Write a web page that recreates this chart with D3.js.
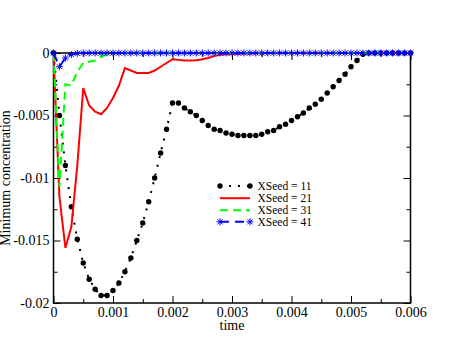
<!DOCTYPE html>
<html>
<head>
<meta charset="utf-8">
<script src="https://cdn.jsdelivr.net/npm/d3@7"></script>
<style>
body { margin: 0; background: white; }
svg text { font-family: "Liberation Serif", "Times New Roman", "DejaVu Serif", serif; }
</style>
</head>
<body>
<div class="container"></div>
<script>
// data
var times = [0, 0.0001, 0.0002, 0.0003, 0.0004, 0.0005, 0.0006, 0.0007, 0.0008, 0.0009,
             0.0010, 0.0011, 0.0012, 0.0013, 0.0014, 0.0015, 0.0016, 0.0017, 0.0018, 0.0019,
             0.0020, 0.0021, 0.0022, 0.0023, 0.0024, 0.0025, 0.0026, 0.0027, 0.0028, 0.0029,
             0.0030, 0.0031, 0.0032, 0.0033, 0.0034, 0.0035, 0.0036, 0.0037, 0.0038, 0.0039,
             0.0040, 0.0041, 0.0042, 0.0043, 0.0044, 0.0045, 0.0046, 0.0047, 0.0048, 0.0049,
             0.0050, 0.0051, 0.0052, 0.0053, 0.0054, 0.0055, 0.0056, 0.0057, 0.0058, 0.0059,
             0.0060];

var seed11 = [0, -0.0050, -0.0090, -0.0123, -0.0149, -0.0168, -0.0181, -0.0189, -0.0194, -0.0194,
              -0.0190, -0.0184, -0.0175, -0.0164, -0.0150, -0.0136, -0.0119, -0.0100, -0.0080, -0.0061,
              -0.0040, -0.0040, -0.0044, -0.0047, -0.0050, -0.0054, -0.0058, -0.0061, -0.0062, -0.0064,
              -0.0065, -0.0066, -0.0066, -0.0066, -0.0066, -0.0065, -0.0063, -0.0062, -0.0059, -0.0057,
              -0.0054, -0.0051, -0.0048, -0.0044, -0.0041, -0.0037, -0.0032, -0.0027, -0.0022, -0.0017,
              -0.0011, -0.0006, -0.0001, 0, 0, 0, 0, 0, 0, 0,
              0];

var seed21 = [0, -0.0115, -0.0156, -0.0139, -0.0090, -0.0028, -0.0042, -0.0047, -0.0049, -0.0044,
              -0.0036, -0.0026, -0.0012, -0.0014, -0.0016, -0.0016, -0.0016, -0.0014, -0.0011, -0.0008,
              -0.0005, -0.00055, -0.0006, -0.0006, -0.00058, -0.0005, -0.0004, -0.00025, -0.00015, -0.0001,
              -0.00008, -0.00006, -0.00005, -0.00004, -0.00003, -0.00002, -0.00001, 0, 0, 0,
              0, 0, 0, 0, 0, 0, 0, 0, 0, 0,
              0, 0, 0, 0, 0, 0, 0, 0, 0, 0,
              0];

var seed31 = [0, -0.0107, -0.0025, -0.0026, -0.0015, -0.0008, -0.0007, -0.0006, -0.0003, -0.0001,
              -0.00005, 0, 0, 0, 0, 0, 0, 0, 0, 0,
              0, 0, 0, 0, 0, 0, 0, 0, 0, 0,
              0, 0, 0, 0, 0, 0, 0, 0, 0, 0,
              0, 0, 0, 0, 0, 0, 0, 0, 0, 0,
              0, 0, 0, 0, 0, 0, 0, 0, 0, 0,
              0];

var seed41 = [0, -0.0011, -0.0004, -0.00012, -0.00003, 0, 0, 0, 0, 0,
              0, 0, 0, 0, 0, 0, 0, 0, 0, 0,
              0, 0, 0, 0, 0, 0, 0, 0, 0, 0,
              0, 0, 0, 0, 0, 0, 0, 0, 0, 0,
              0, 0, 0, 0, 0, 0, 0, 0, 0, 0,
              0, 0, 0, 0, 0, 0, 0, 0, 0, 0,
              0];

var seedNames = ["XSeed = 11", "XSeed = 21", "XSeed = 31", "XSeed = 41"];

var xTicks = [0, 0.001, 0.002, 0.003, 0.004, 0.005, 0.006];
var xMinor = [0.0005, 0.0015, 0.0025, 0.0035, 0.0045, 0.0055];
var yTicks = [0, -0.005, -0.01, -0.015, -0.02];
var yMinor = [-0.0025, -0.0075, -0.0125, -0.0175];

var W = 462, H = 357;
// (window.top is read-only, so the plot edges get their own names)
var plotL = 53.5, plotR = 410.5, plotT = 53, plotB = 303;
var font = "Liberation Serif, Times New Roman, DejaVu Serif, serif";

//Makes the stage
function makeStage(w, h) {
    var stage = d3.select(".container")
      .insert("svg")
      .attr("width", w)
      .attr("height", h)
      .style("display", "block")
      .style("background-color", "white");
    return stage;
}

var stage = makeStage(W, H);

var x = d3.scaleLinear().domain([0, 0.006]).range([plotL, plotR]);
var y = d3.scaleLinear().domain([-0.02, 0]).range([plotB, plotT]);

// style an axis group: thin black ticks, serif labels, no domain path
function styleAxis(g) {
    g.attr("font-family", null);
    g.select(".domain").remove();
    g.selectAll("line").attr("stroke", "black").attr("stroke-width", 1);
    g.selectAll("text")
      .style("font-family", font)
      .attr("font-size", 14)
      .attr("fill", "black");
}

// major ticks with labels (bottom, left)
stage.append("g")
  .attr("transform", "translate(0," + plotB + ")")
  .call(d3.axisBottom(x).tickValues(xTicks).tickSize(-7).tickPadding(4).tickFormat(function(d) { return String(d); }))
  .call(styleAxis);

stage.append("g")
  .attr("transform", "translate(" + plotL + ",0)")
  .call(d3.axisLeft(y).tickValues(yTicks).tickSize(-7).tickPadding(4).tickFormat(function(d) { return String(d); }))
  .call(styleAxis);

// ticks without labels on top and right, plus the minor ticks everywhere
stage.append("g")
  .attr("transform", "translate(0," + plotT + ")")
  .call(d3.axisTop(x).tickValues(xTicks).tickSize(-7).tickFormat(""))
  .call(styleAxis);
stage.append("g")
  .attr("transform", "translate(" + plotR + ",0)")
  .call(d3.axisRight(y).tickValues(yTicks).tickSize(-7).tickFormat(""))
  .call(styleAxis);
stage.append("g")
  .attr("transform", "translate(0," + plotB + ")")
  .call(d3.axisBottom(x).tickValues(xMinor).tickSize(-4).tickFormat(""))
  .call(styleAxis);
stage.append("g")
  .attr("transform", "translate(0," + plotT + ")")
  .call(d3.axisTop(x).tickValues(xMinor).tickSize(-4).tickFormat(""))
  .call(styleAxis);
stage.append("g")
  .attr("transform", "translate(" + plotL + ",0)")
  .call(d3.axisLeft(y).tickValues(yMinor).tickSize(-4).tickFormat(""))
  .call(styleAxis);
stage.append("g")
  .attr("transform", "translate(" + plotR + ",0)")
  .call(d3.axisRight(y).tickValues(yMinor).tickSize(-4).tickFormat(""))
  .call(styleAxis);

// frame
stage.append("rect")
  .attr("x", plotL).attr("y", plotT)
  .attr("width", plotR - plotL).attr("height", plotB - plotT)
  .attr("fill", "none")
  .attr("stroke", "black")
  .attr("stroke-width", 1.5);

// axis titles
stage.append("text").text("time")
  .attr("x", (plotL + plotR) / 2)
  .attr("y", 330)
  .style("font-family", font)
  .attr("font-size", 14)
  .attr("text-anchor", "middle");

stage.append("text").text("Minimum concentration")
  .attr("transform", "translate(10," + ((plotT + plotB) / 2) + ") rotate(-90)")
  .style("font-family", font)
  .attr("font-size", 14)
  .attr("text-anchor", "middle");

var line = d3.line()
  .x(function(d, i) { return x(times[i]); })
  .y(function(d) { return y(d); });

function drawSeries(values, color, dash) {
    stage.append("path")
      .datum(values)
      .attr("d", line)
      .attr("fill", "none")
      .attr("stroke", color)
      .attr("stroke-width", 2)
      .attr("stroke-dasharray", dash);
}

//asterisk marker: plus + cross
function drawStar(g, cx, cy, r) {
    var d = "M" + (cx - r) + "," + cy + "H" + (cx + r) +
            "M" + cx + "," + (cy - r) + "V" + (cy + r);
    var k = r * 0.72;
    d += "M" + (cx - k) + "," + (cy - k) + "L" + (cx + k) + "," + (cy + k) +
         "M" + (cx - k) + "," + (cy + k) + "L" + (cx + k) + "," + (cy - k);
    g.append("path").attr("d", d)
      .attr("stroke", "#0000ff")
      .attr("stroke-width", 1)
      .attr("fill", "none");
}

// XSeed = 11 : dotted line with filled circles
drawSeries(seed11, "black", "2,7");
stage.append("g").selectAll("circle")
  .data(seed11)
  .enter().append("circle")
  .attr("cx", function(d, i) { return x(times[i]); })
  .attr("cy", function(d) { return y(d); })
  .attr("r", 2.7)
  .attr("fill", "black");

// XSeed = 21 : solid red
drawSeries(seed21, "#ff0000", null);

// XSeed = 31 : dashed green
drawSeries(seed31, "#00ff00", "8,5");

// XSeed = 41 : dashed blue with stars
drawSeries(seed41, "#0000ff", "9,6");
var starG = stage.append("g");
seed41.forEach(function(d, i) { drawStar(starG, x(times[i]), y(d), 3.5); });

// legend
var legY = [186, 198.2, 210.2, 221.8];
var legX1 = 220, legX2 = 250;
var leg = stage.append("g");
var legColors = ["black", "#ff0000", "#00ff00", "#0000ff"];
var legDash = ["2,7", null, "8,5", "9,6"];
seedNames.forEach(function(name, i) {
    leg.append("line")
      .attr("x1", legX1).attr("x2", legX2)
      .attr("y1", legY[i]).attr("y2", legY[i])
      .attr("stroke", legColors[i])
      .attr("stroke-width", 2)
      .attr("stroke-dasharray", legDash[i]);
    leg.append("text").text(name)
      .attr("x", 257.5)
      .attr("y", legY[i] + 4)
      .style("font-family", font)
      .attr("font-size", 11.5)
      .attr("fill", "black");
});
[legX1, legX2].forEach(function(px) {
    leg.append("circle").attr("cx", px).attr("cy", legY[0]).attr("r", 2.7).attr("fill", "black");
    drawStar(leg, px, legY[3], 3.5);
});
</script>
</body>
</html>
